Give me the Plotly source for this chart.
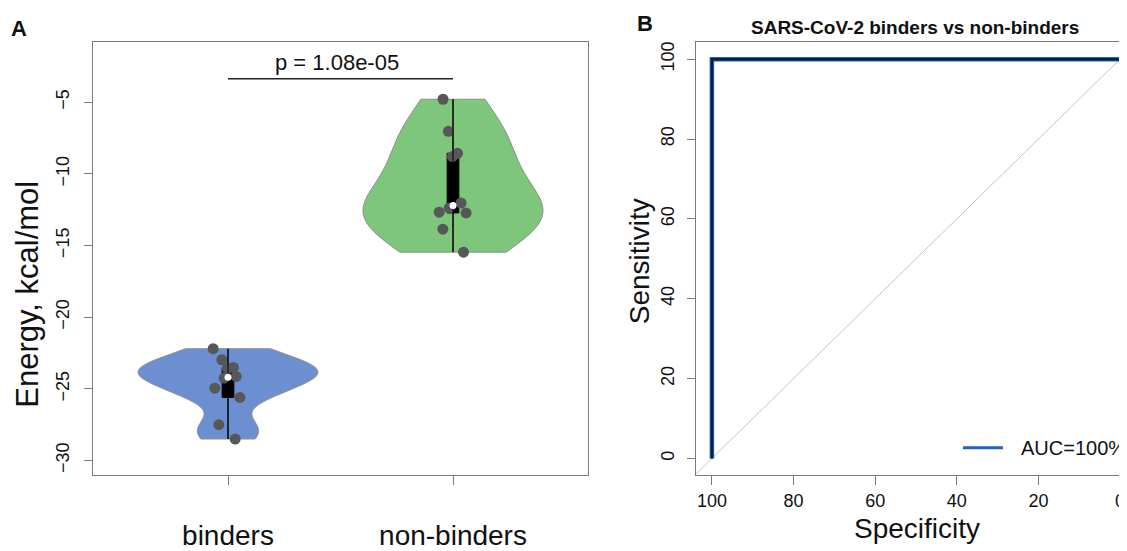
import numpy as np
import plotly.graph_objects as go

# ---- data ----
categories = ["binders", "non-binders"]
binders = [-22.2, -22.97, -23.58, -23.51, -24.13, -24.25, -24.95, -25.6, -27.5, -28.5]
non_binders = [-4.79, -7.03, -8.79, -8.56, -12.03, -12.38, -12.72, -12.67, -13.86, -15.46]
p_value_text = "p = 1.08e-05"

specificity = [100, 100, 0]
sensitivity = [0, 100, 100]
chance_spec = [104, -4]
chance_sens = [-4, 104]
auc_label = "AUC=100%"

left_ticks = [-5, -10, -15, -20, -25, -30]
roc_ticks = [0, 20, 40, 60, 80, 100]

FONT = "Liberation Sans, Arial, Helvetica, sans-serif"
OFF = 8  # page body margin
W, H = 1127 - OFF, 551 - OFF
AXC = "#7a7a7a"


def px(x):
    return (x - OFF) / W


def py(y):
    return 1 - (y - OFF) / H


fig = go.Figure()

groups = [(categories[0], binders, "#6B8FD0", 0.85), (categories[1], non_binders, "#7DC67B", 2.2)]

# violins with inner box
for name, vals, col, bw in groups:
    fig.add_trace(go.Violin(
        x=[name] * len(vals), y=vals, name=name, fillcolor=col, opacity=1,
        line=dict(color="#8f8f8f", width=1), points=False, spanmode="hard",
        scalemode="width", width=0.8, bandwidth=bw,
        box=dict(visible=True, fillcolor="black", line=dict(color="black", width=1), width=0.065),
        meanline=dict(visible=False), showlegend=False, hoverinfo="skip",
        xaxis="x", yaxis="y"))

# full-range whisker lines and median dots
for name, vals, col, bw in groups:
    fig.add_trace(go.Scatter(x=[name, name], y=[min(vals), max(vals)], mode="lines",
                             line=dict(color="black", width=1), showlegend=False,
                             hoverinfo="skip", xaxis="x", yaxis="y"))
for name, vals, col, bw in groups:
    fig.add_trace(go.Scatter(x=[name], y=[float(np.median(vals))], mode="markers",
                             marker=dict(color="white", size=7), showlegend=False,
                             hoverinfo="skip", xaxis="x", yaxis="y"))

# jittered points
for name, vals, col, bw in groups:
    fig.add_trace(go.Box(
        x=[name] * len(vals), y=vals, name=name, boxpoints="all", jitter=0.9, pointpos=0,
        width=0.2, fillcolor="rgba(0,0,0,0)", line=dict(color="rgba(0,0,0,0)", width=0),
        marker=dict(color="#575757", size=11), showlegend=False, hoverinfo="skip",
        xaxis="x", yaxis="y"))

# ROC panel
fig.add_trace(go.Scatter(x=chance_spec, y=chance_sens, mode="lines",
                         line=dict(color="#c4c4c4", width=1), showlegend=False,
                         hoverinfo="skip", xaxis="x2", yaxis="y2"))
fig.add_trace(go.Scatter(x=specificity, y=sensitivity, mode="lines", name=auc_label,
                         line=dict(color="#2160C4", width=4.5), showlegend=False,
                         xaxis="x2", yaxis="y2"))
fig.add_trace(go.Scatter(x=specificity, y=sensitivity, mode="lines",
                         line=dict(color="#0B1F45", width=2.5), showlegend=False,
                         xaxis="x2", yaxis="y2"))

ydom = [py(483), py(42)]
axis_common = dict(showgrid=False, zeroline=False, showline=True, linecolor=AXC, linewidth=1.3,
                   ticks="outside", ticklen=8, tickcolor=AXC, tickwidth=1.3,
                   tickfont=dict(family=FONT, size=18, color="#111"))

fig.update_layout(
    width=W, height=H, margin=dict(l=0, r=0, t=0, b=0),
    paper_bgcolor="white", plot_bgcolor="white",
    violinmode="overlay", boxmode="overlay",
    xaxis=dict(domain=[px(93), px(588)], type="category", categoryorder="array",
               categoryarray=categories, range=[-0.6, 1.6], mirror=True,
               ticklabelstandoff=26, **{**axis_common, "ticklen": 9,
                                        "tickfont": dict(family=FONT, size=28, color="#111")}),
    yaxis=dict(domain=ydom, range=[-31.03, -0.82], tickvals=left_ticks, tickangle=-90,
               mirror=True, ticklabelstandoff=8, anchor="x", **axis_common),
    xaxis2=dict(domain=[px(696), 1], range=[103.9, -1.7], tickvals=roc_ticks, mirror=True,
                anchor="y2", **{**axis_common, "ticklen": 9}),
    yaxis2=dict(domain=ydom, range=[-4.2, 104.2], tickvals=roc_ticks, tickangle=-90,
                anchor="x2", ticklabelstandoff=6, **axis_common),
    showlegend=False,
)

# p-value bracket
fig.add_shape(type="line", xref="x", yref="y", x0=0, x1=1, y0=-3.36, y1=-3.36,
              line=dict(color="#222", width=1.5))

# legend (manual)
fig.add_shape(type="line", xref="paper", yref="paper", x0=px(963), x1=px(1003),
              y0=py(455), y1=py(455), line=dict(color="#2160C4", width=3))
fig.add_annotation(text=auc_label, xref="paper", yref="paper", x=px(1019), y=py(455),
                   xanchor="left", yanchor="middle", showarrow=False,
                   font=dict(family=FONT, size=20, color="#111"))

ann = [
    dict(text=p_value_text, x=337, y=62, size=22, bold=False),
    dict(text="A", x=19, y=28, size=22, bold=True),
    dict(text="B", x=645, y=23, size=22, bold=True),
    dict(text="SARS-CoV-2 binders vs non-binders", x=915, y=27, size=19, bold=True),
    dict(text="Specificity", x=917, y=537, size=28, bold=False),
]
for a in ann:
    t = f"<b>{a['text']}</b>" if a["bold"] else a["text"]
    fig.add_annotation(text=t, xref="paper", yref="paper", x=px(a["x"]), y=py(a["y"]),
                       xanchor="center", yanchor="middle", showarrow=False,
                       font=dict(family=FONT, size=a["size"], color="#111"))
fig.add_annotation(text="Energy, kcal/mol", xref="paper", yref="paper", x=px(28), y=py(299),
                   textangle=-90, showarrow=False, xanchor="center", yanchor="middle",
                   font=dict(family=FONT, size=31, color="#111"))
fig.add_annotation(text="Sensitivity", xref="paper", yref="paper", x=px(639), y=py(265),
                   textangle=-90, showarrow=False, xanchor="center", yanchor="middle",
                   font=dict(family=FONT, size=28, color="#111"))

fig.write_html("out.html")
